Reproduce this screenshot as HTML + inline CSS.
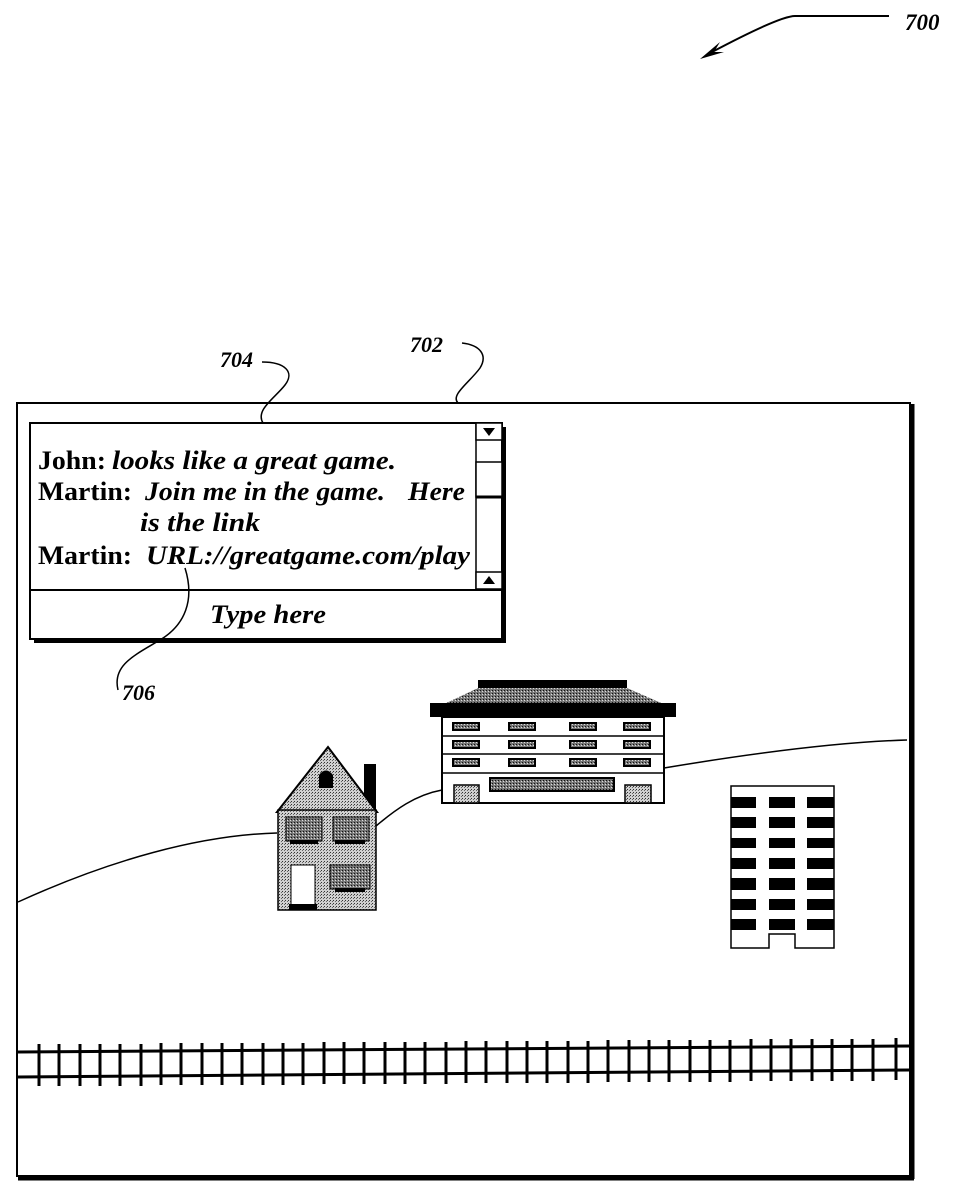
<!DOCTYPE html>
<html><head><style>
html,body{margin:0;padding:0;background:#fff;}
svg{display:block;}
text{font-family:"Liberation Serif",serif;fill:#000;}
</style></head><body>
<svg width="960" height="1200" viewBox="0 0 960 1200" xmlns="http://www.w3.org/2000/svg">
<defs>
<pattern id="dots" width="3" height="3" patternUnits="userSpaceOnUse">
<rect width="3" height="3" fill="#d0d0d0"/><rect x="0" y="0" width="1" height="1" fill="#333"/><rect x="2" y="1" width="1" height="1" fill="#666"/>
</pattern>
<pattern id="dark" width="3" height="3" patternUnits="userSpaceOnUse">
<rect width="3" height="3" fill="#777"/><rect x="0" y="0" width="1" height="1" fill="#111"/><rect x="2" y="1" width="1" height="1" fill="#ddd"/>
</pattern>
</defs>

<text x="905" y="30" font-size="23" font-weight="bold" font-style="italic">700</text>
<path d="M889,16 L795,16 Q780,16 712,52" fill="none" stroke="#000" stroke-width="2"/>
<path d="M700,59 L720,42 L714,52 L724,52 Z" fill="#000"/>

<text x="220" y="367" font-size="22" font-weight="bold" font-style="italic">704</text>
<text x="410" y="352" font-size="22" font-weight="bold" font-style="italic">702</text>
<text x="122" y="700" font-size="22" font-weight="bold" font-style="italic">706</text>
<path d="M262,362 C285,362 295,372 285,385 C275,398 255,410 263,423" fill="none" stroke="#000" stroke-width="1.5"/>
<path d="M462,343 C480,345 488,355 480,368 C470,382 450,395 458,403" fill="none" stroke="#000" stroke-width="1.5"/>

<rect x="17" y="403" width="893" height="773" fill="none" stroke="#000" stroke-width="2"/>
<line x1="912" y1="404" x2="912" y2="1179" stroke="#000" stroke-width="5"/>
<line x1="18" y1="1178" x2="914" y2="1178" stroke="#000" stroke-width="5"/>

<rect x="34" y="427" width="472" height="216" fill="#000"/>
<rect x="30" y="423" width="472" height="216" fill="#fff" stroke="#000" stroke-width="2"/>
<line x1="30" y1="590" x2="502" y2="590" stroke="#000" stroke-width="2"/>
<line x1="476" y1="423" x2="476" y2="590" stroke="#000" stroke-width="1.5"/>
<rect x="476" y="423" width="26" height="17" fill="#fff" stroke="#000" stroke-width="1.5"/>
<path d="M483,428 L495,428 L489,436 Z" fill="#000"/>
<rect x="476" y="462" width="26" height="35" fill="#fff" stroke="#000" stroke-width="1.5"/>
<line x1="476" y1="497" x2="502" y2="497" stroke="#000" stroke-width="3"/>
<rect x="476" y="572" width="26" height="17" fill="#fff" stroke="#000" stroke-width="1.5"/>
<path d="M483,584 L495,584 L489,576 Z" fill="#000"/>
<g font-size="26" font-weight="bold">
<text x="38" y="469" textLength="68" lengthAdjust="spacingAndGlyphs">John:</text>
<text x="112" y="469" font-style="italic" textLength="284" lengthAdjust="spacingAndGlyphs">looks like a great game.</text>
<text x="38" y="500" textLength="94" lengthAdjust="spacingAndGlyphs">Martin:</text>
<text x="145" y="500" font-style="italic" textLength="240" lengthAdjust="spacingAndGlyphs">Join me in the game.</text>
<text x="408" y="500" font-style="italic" textLength="57" lengthAdjust="spacingAndGlyphs">Here</text>
<text x="140" y="531" font-style="italic" textLength="120" lengthAdjust="spacingAndGlyphs">is the link</text>
<text x="38" y="564" textLength="94" lengthAdjust="spacingAndGlyphs">Martin:</text>
<text x="146" y="564" font-style="italic" textLength="324" lengthAdjust="spacingAndGlyphs">URL://greatgame.com/play</text>
<text x="210" y="623" font-style="italic" textLength="116" lengthAdjust="spacingAndGlyphs">Type here</text>
</g>
<path d="M185,568 C195,600 185,625 160,640 C135,655 112,665 118,690" fill="none" stroke="#000" stroke-width="1.5"/>

<path d="M18,902 C110,860 200,835 277,833" fill="none" stroke="#000" stroke-width="1.5"/>
<path d="M376,826 C395,810 415,795 442,790" fill="none" stroke="#000" stroke-width="1.5"/>
<path d="M664,768 C760,752 840,742 907,740" fill="none" stroke="#000" stroke-width="1.5"/>

<rect x="364" y="764" width="12" height="45" fill="#000"/>
<path d="M277,812 L328,747 L377,812 Z" fill="url(#dots)" stroke="#000" stroke-width="2"/>
<rect x="278" y="810" width="98" height="100" fill="url(#dots)" stroke="#000" stroke-width="1.5"/>
<path d="M319,788 L319,775 Q326,766 333,775 L333,788 Z" fill="#000"/>
<rect x="286" y="817" width="36" height="24" fill="url(#dark)" stroke="#000"/>
<rect x="333" y="817" width="36" height="24" fill="url(#dark)" stroke="#000"/>
<rect x="330" y="865" width="40" height="24" fill="url(#dark)" stroke="#000"/>
<rect x="290" y="840" width="28" height="4" fill="#000"/><rect x="335" y="840" width="30" height="4" fill="#000"/><rect x="335" y="888" width="30" height="4" fill="#000"/>
<rect x="291" y="865" width="24" height="40" fill="#fff" stroke="#000"/>
<rect x="289" y="904" width="28" height="6" fill="#000"/>

<rect x="478" y="680" width="149" height="8" fill="#000"/>
<path d="M440,706 L478,688 L627,688 L668,706 Z" fill="url(#dark)"/>
<rect x="430" y="703" width="246" height="14" fill="#000"/>
<rect x="442" y="717" width="222" height="86" fill="#fff" stroke="#000" stroke-width="2"/>
<line x1="442" y1="736" x2="664" y2="736" stroke="#000" stroke-width="1.5"/>
<line x1="442" y1="754" x2="664" y2="754" stroke="#000" stroke-width="1.5"/>
<line x1="442" y1="773" x2="664" y2="773" stroke="#000" stroke-width="1.5"/>
<g fill="url(#dark)" stroke="#000" stroke-width="2">
<rect x="453" y="723" width="26" height="7"/><rect x="509" y="723" width="26" height="7"/><rect x="570" y="723" width="26" height="7"/><rect x="624" y="723" width="26" height="7"/>
<rect x="453" y="741" width="26" height="7"/><rect x="509" y="741" width="26" height="7"/><rect x="570" y="741" width="26" height="7"/><rect x="624" y="741" width="26" height="7"/>
<rect x="453" y="759" width="26" height="7"/><rect x="509" y="759" width="26" height="7"/><rect x="570" y="759" width="26" height="7"/><rect x="624" y="759" width="26" height="7"/>
<rect x="490" y="778" width="124" height="13"/>
</g>
<rect x="454" y="785" width="25" height="18" fill="url(#dots)" stroke="#000" stroke-width="1.5"/>
<rect x="625" y="785" width="26" height="18" fill="url(#dots)" stroke="#000" stroke-width="1.5"/>

<path d="M731,786 L834,786 L834,948 L795,948 L795,934 L769,934 L769,948 L731,948 Z" fill="#fff" stroke="#000" stroke-width="1.5"/>
<g fill="#000">
<rect x="731" y="797" width="25" height="11"/><rect x="769" y="797" width="26" height="11"/><rect x="807" y="797" width="27" height="11"/>
<rect x="731" y="817" width="25" height="11"/><rect x="769" y="817" width="26" height="11"/><rect x="807" y="817" width="27" height="11"/>
<rect x="731" y="838" width="25" height="10"/><rect x="769" y="838" width="26" height="10"/><rect x="807" y="838" width="27" height="10"/>
<rect x="731" y="858" width="25" height="11"/><rect x="769" y="858" width="26" height="11"/><rect x="807" y="858" width="27" height="11"/>
<rect x="731" y="878" width="25" height="12"/><rect x="769" y="878" width="26" height="12"/><rect x="807" y="878" width="27" height="12"/>
<rect x="731" y="899" width="25" height="11"/><rect x="769" y="899" width="26" height="11"/><rect x="807" y="899" width="27" height="11"/>
<rect x="731" y="919" width="25" height="11"/><rect x="769" y="919" width="26" height="11"/><rect x="807" y="919" width="27" height="11"/>
</g>

<line x1="18" y1="1052" x2="910" y2="1046" stroke="#000" stroke-width="3"/>
<line x1="18" y1="1077" x2="910" y2="1070" stroke="#000" stroke-width="3"/>
<g stroke="#000" stroke-width="3">
<line x1="39" y1="1044" x2="39" y2="1086"/><line x1="59" y1="1044" x2="59" y2="1086"/><line x1="80" y1="1044" x2="80" y2="1086"/><line x1="100" y1="1044" x2="100" y2="1086"/><line x1="120" y1="1044" x2="120" y2="1086"/><line x1="141" y1="1044" x2="141" y2="1086"/><line x1="161" y1="1043" x2="161" y2="1085"/><line x1="181" y1="1043" x2="181" y2="1085"/><line x1="202" y1="1043" x2="202" y2="1085"/><line x1="222" y1="1043" x2="222" y2="1085"/>
<line x1="242" y1="1043" x2="242" y2="1085"/><line x1="263" y1="1043" x2="263" y2="1085"/><line x1="283" y1="1043" x2="283" y2="1085"/><line x1="303" y1="1043" x2="303" y2="1085"/><line x1="324" y1="1042" x2="324" y2="1084"/><line x1="344" y1="1042" x2="344" y2="1084"/><line x1="364" y1="1042" x2="364" y2="1084"/><line x1="385" y1="1042" x2="385" y2="1084"/><line x1="405" y1="1042" x2="405" y2="1084"/><line x1="425" y1="1042" x2="425" y2="1084"/>
<line x1="446" y1="1042" x2="446" y2="1084"/><line x1="466" y1="1041" x2="466" y2="1083"/><line x1="486" y1="1041" x2="486" y2="1083"/><line x1="507" y1="1041" x2="507" y2="1083"/><line x1="527" y1="1041" x2="527" y2="1083"/><line x1="547" y1="1041" x2="547" y2="1083"/><line x1="568" y1="1041" x2="568" y2="1083"/><line x1="588" y1="1041" x2="588" y2="1083"/><line x1="608" y1="1040" x2="608" y2="1082"/><line x1="629" y1="1040" x2="629" y2="1082"/>
<line x1="649" y1="1040" x2="649" y2="1082"/><line x1="669" y1="1040" x2="669" y2="1082"/><line x1="690" y1="1040" x2="690" y2="1082"/><line x1="710" y1="1040" x2="710" y2="1082"/><line x1="730" y1="1040" x2="730" y2="1082"/><line x1="751" y1="1039" x2="751" y2="1081"/><line x1="771" y1="1039" x2="771" y2="1081"/><line x1="791" y1="1039" x2="791" y2="1081"/><line x1="812" y1="1039" x2="812" y2="1081"/><line x1="832" y1="1039" x2="832" y2="1081"/>
<line x1="852" y1="1039" x2="852" y2="1081"/><line x1="873" y1="1039" x2="873" y2="1081"/><line x1="896" y1="1038" x2="896" y2="1080"/>
</g>
</svg>
</body></html>
